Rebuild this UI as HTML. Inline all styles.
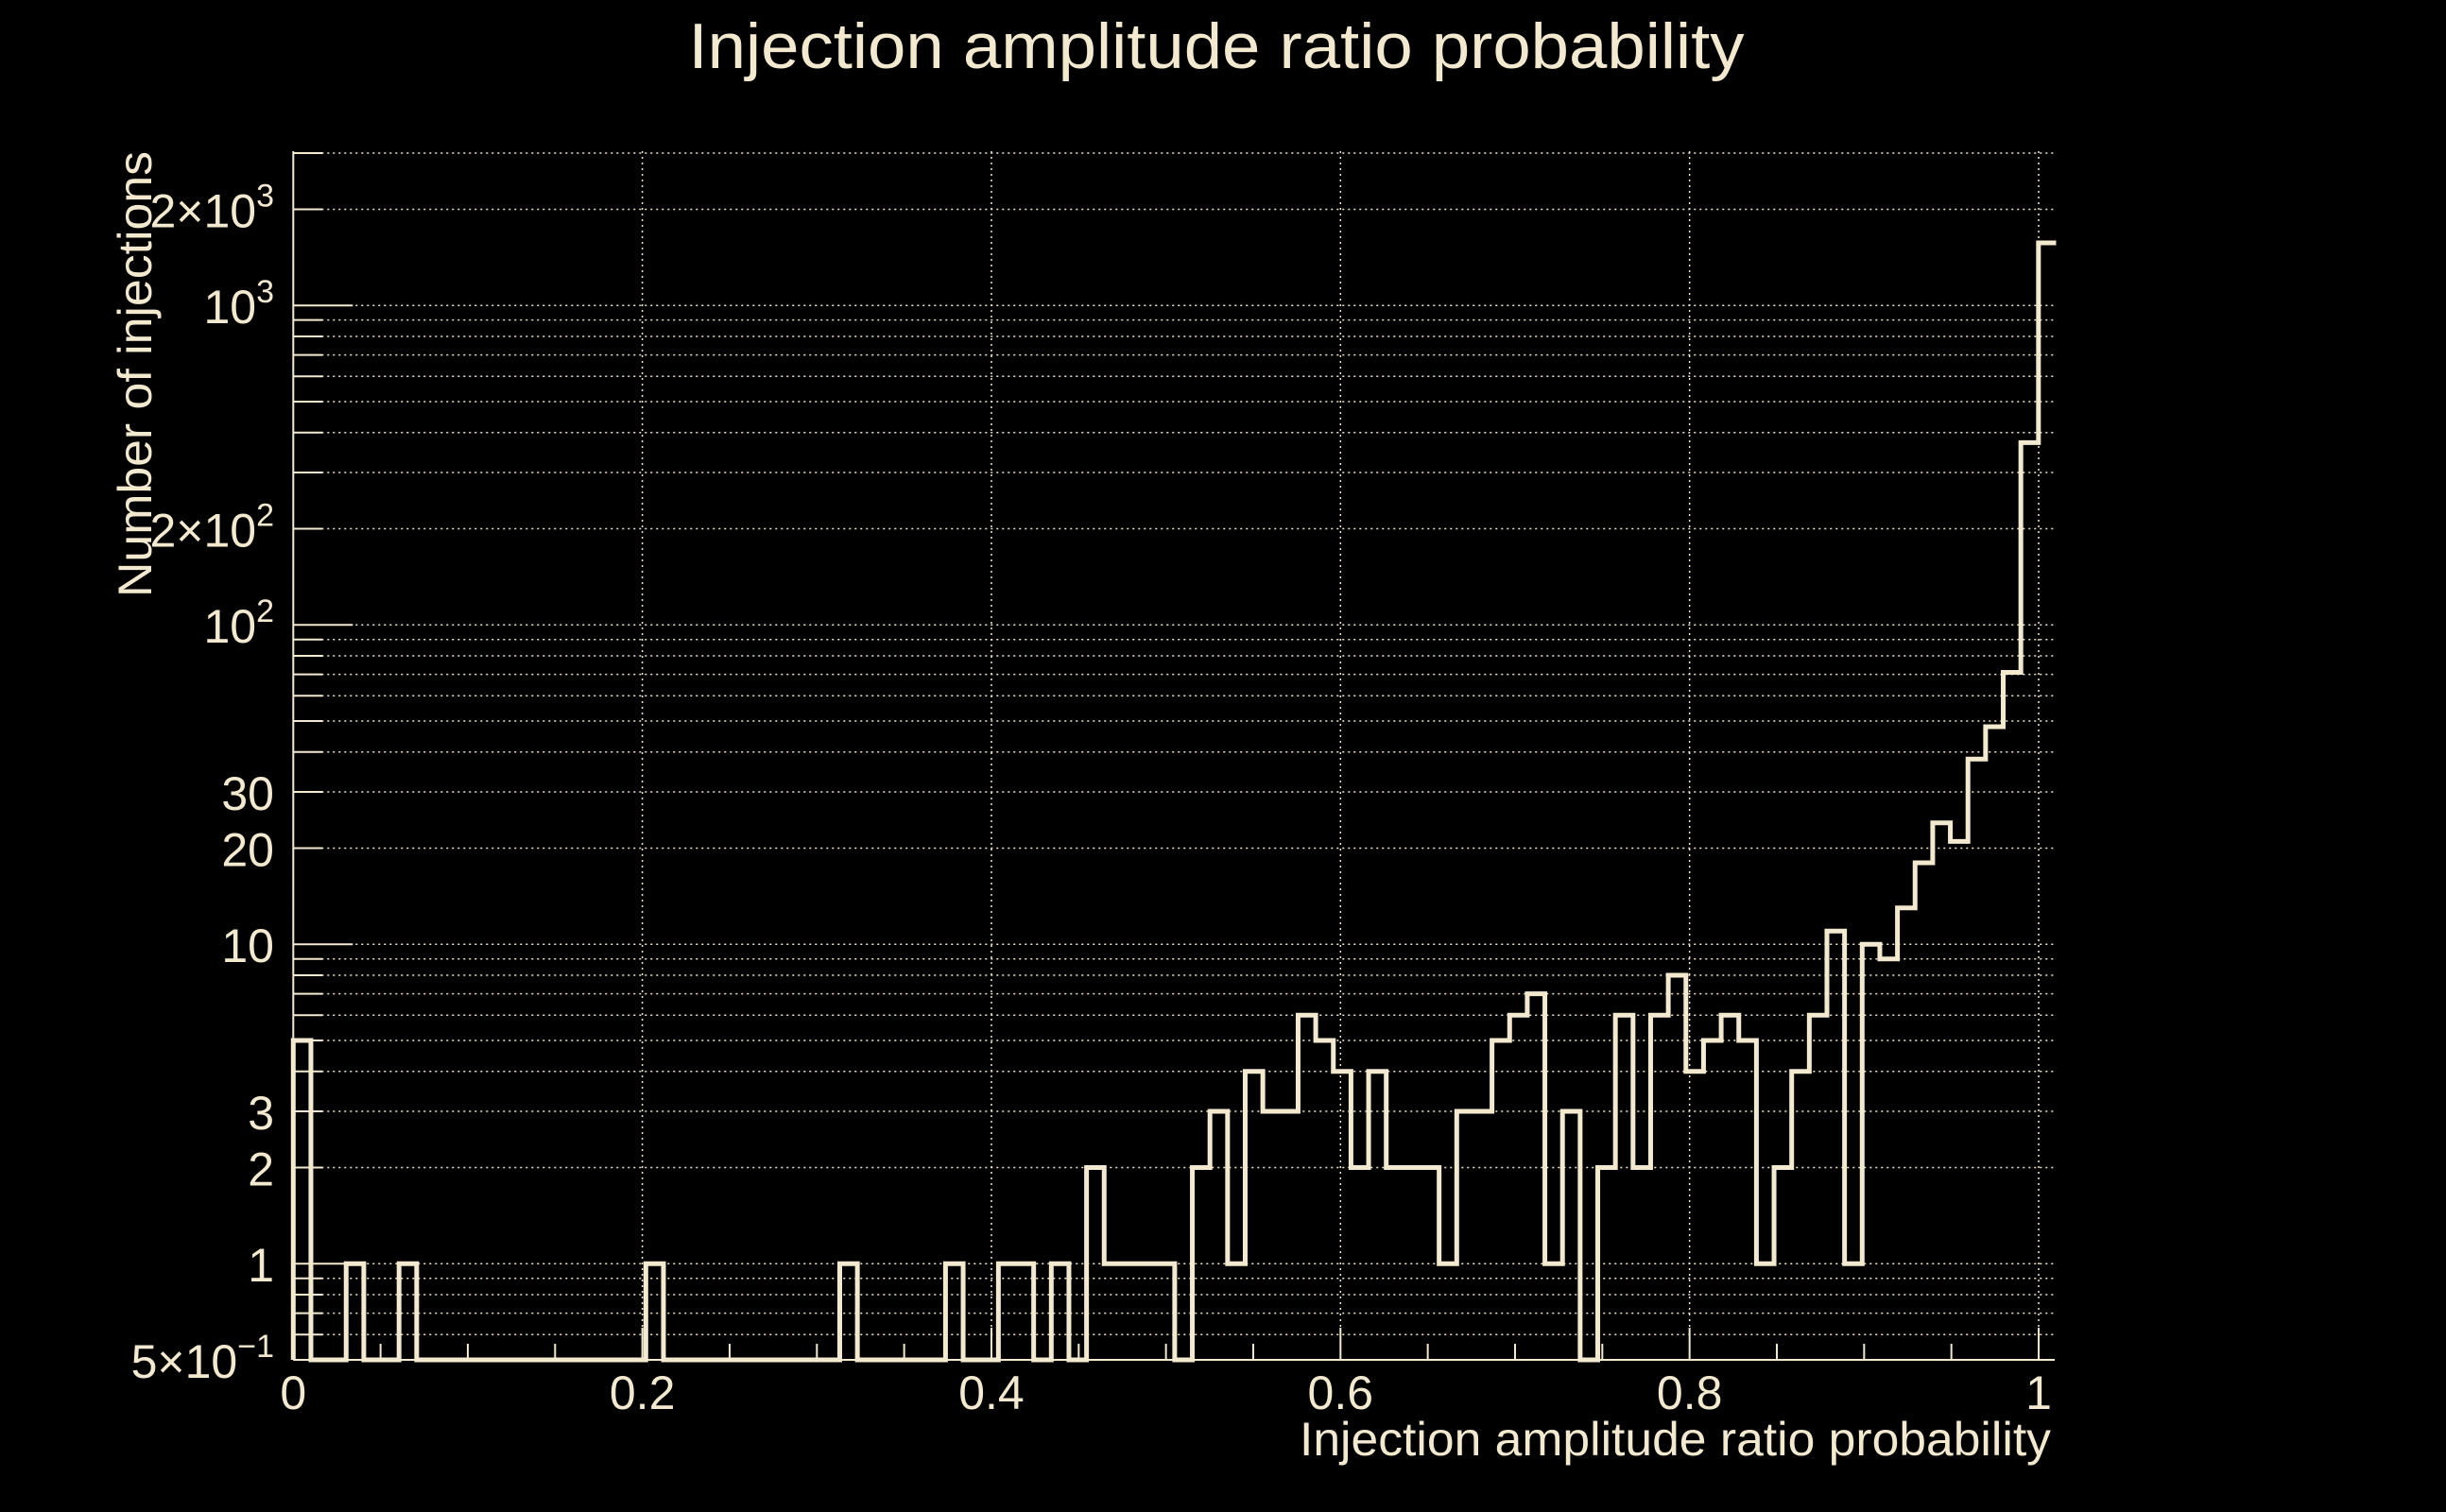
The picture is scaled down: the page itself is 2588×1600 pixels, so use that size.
<!DOCTYPE html>
<html><head><meta charset="utf-8">
<style>
html,body{margin:0;padding:0;background:#000;}
svg{display:block;}
text{font-family:"Liberation Sans",sans-serif;fill:#f3e9cf;}
</style></head>
<body>
<svg id="chart" width="2588" height="1600" viewBox="0 0 2588 1600" xmlns="http://www.w3.org/2000/svg">
<rect width="2588" height="1600" fill="#000"/>
<text x="1287" y="72" font-size="68" text-anchor="middle" textLength="1117" lengthAdjust="spacingAndGlyphs">Injection amplitude ratio probability</text>
<text x="2170" y="1540" font-size="50" text-anchor="end" textLength="795" lengthAdjust="spacingAndGlyphs">Injection amplitude ratio probability</text>
<text transform="translate(160,160) rotate(-90)" x="0" y="0" font-size="50" text-anchor="end" textLength="472" lengthAdjust="spacingAndGlyphs">Number of injections</text>
<g id="grid"></g>
<g id="axes"></g>
<g id="marks"></g>
</svg>
<script>
const binWidth = 0.0101;
const binCounts = [5,0,0,1,0,0,1,0,0,0, 0,0,0,0,0,0,0,0,0,0, 1,0,0,0,0,0,0,0,0,0, 0,1,0,0,0,0,0,1,0,0, 1,1,0,1,0,2,1,1,1,1, 0,2,3,1,4,3,3,6,5,4, 2,4,2,2,2,1,3,3,5,6, 7,1,3,0,2,6,2,6,8,4, 5,6,5,1,2,4,6,11,1,10, 9,13,18,24,21,38,48,71,372,1570];
const xTickValues = [0,0.2,0.4,0.6,0.8,1];
const xTickLabels = ["0","0.2","0.4","0.6","0.8","1"];
const yLabelValues = [0.5,1,2,3,10,20,30,100,200,1000,2000];
const yLabelTexts = [["5","×10","−1"],["1"],["2"],["3"],["10"],["20"],["30"],["","10","2"],["2","×10","2"],["","10","3"],["2","×10","3"]];

const NS = "http://www.w3.org/2000/svg";
const L = 310.3, R = 2174, T = 160, B = 1439;
const xMin = 0, xMax = (R - L) / 1846.7;
const yMin = 0.5, yMax = 3040;
const col = "#f3e9cf";
function xs(v){ return L + (v - xMin) / (xMax - xMin) * (R - L); }
function ys(v){ const c = Math.max(v, yMin); return B - (Math.log10(c) - Math.log10(yMin)) / (Math.log10(yMax) - Math.log10(yMin)) * (B - T); }
function mk(tag, attrs, parent){ const e = document.createElementNS(NS, tag); for (const k in attrs) e.setAttribute(k, attrs[k]); parent.appendChild(e); return e; }

const grid = document.getElementById('grid');
const axes = document.getElementById('axes');
const marks = document.getElementById('marks');

xTickValues.forEach(v => {
  const l = mk('line', {x1: xs(v), x2: xs(v), y1: T, y2: B, stroke: col, 'stroke-width': 1.5, 'stroke-dasharray': '2 4'}, grid);
  
  
});
for (let d = -1; d <= 3; d++) {
  for (let m = 1; m <= 9; m++) {
    const v = m * Math.pow(10, d);
    if (v < yMin - 1e-9 || v > yMax) continue;
    const y = ys(v);
    const g = mk('line', {x1: L, x2: R, y1: y, y2: y, stroke: col, 'stroke-width': 1.5, 'stroke-dasharray': '2 4'}, grid);
    
    
    const len = (m === 1) ? 63 : 31;
    const t = mk('line', {x1: L, x2: L + len, y1: y, y2: y, stroke: col, 'stroke-width': 2}, axes);
    
    
  }
}
for (let i = 0; i <= 20; i++) {
  const v = i * 0.05;
  const major = (i % 4 === 0);
  const t = mk('line', {x1: xs(v), x2: xs(v), y1: B, y2: B - (major ? 34 : 17), stroke: col, 'stroke-width': 2}, axes);
  
  
}
const xa = mk('line', {x1: L, x2: R, y1: B, y2: B, stroke: col, 'stroke-width': 2}, axes);


const ya = mk('line', {x1: L, x2: L, y1: T, y2: B, stroke: col, 'stroke-width': 2}, axes);



xTickValues.forEach((v, i) => {
  const t = mk('text', {x: xs(v), y: 1491, 'font-size': 50, 'text-anchor': 'middle'}, axes);
  t.textContent = xTickLabels[i];
  
  
});
yLabelValues.forEach((v, i) => {
  const p = yLabelTexts[i];
  const t = mk('text', {x: 290, y: ys(v) + 19, 'font-size': 50, 'text-anchor': 'end'}, axes);
  
  
  const s1 = mk('tspan', {}, t); s1.textContent = p[0];
  if (p.length > 1) {
    const s2 = mk('tspan', {}, t); s2.textContent = p[1];
    const s3 = mk('tspan', {dy: -22, 'font-size': 34}, t); s3.textContent = p[2];
  }
});

let d = '';
binCounts.forEach((c, i) => {
  const x0 = xs(i * binWidth), x1 = xs((i + 1) * binWidth), y = ys(c);
  if (i === 0) d += 'M' + x0 + ',' + B + ' L' + x0 + ',' + y;
  else d += ' L' + x0 + ',' + y;
  d += ' L' + x1 + ',' + y;
});
const hp = mk('path', {d: d, fill: 'none', stroke: col, 'stroke-width': 5, 'stroke-linejoin': 'miter'}, marks);


</script>
</body></html>
